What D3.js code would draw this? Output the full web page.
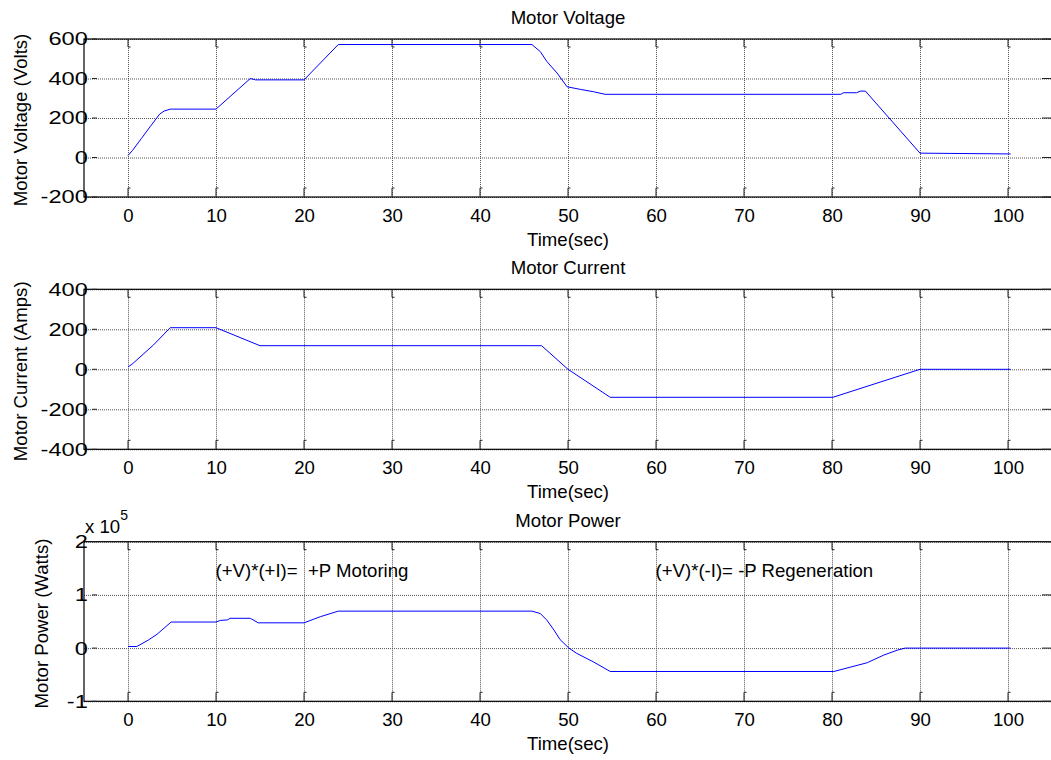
<!DOCTYPE html>
<html lang="en">
<head>
<meta charset="UTF-8">
<title>Motor Voltage, Current and Power</title>
<script src="https://d3js.org/d3.v7.min.js"></script>
<style>
  body { margin: 0; background: #fff; }
  svg { display: block; font-family: "Liberation Sans", Arial, sans-serif; }
  .grid line { stroke: #555; stroke-dasharray: 1,1; }
  .grid .domain { display: none; }
  .lbl { font-size: 18.6px; fill: #000; }
</style>
</head>
<body>
<svg id="chart" width="1051" height="760"></svg>
<script>
// values
const xTicks = [0, 10, 20, 30, 40, 50, 60, 70, 80, 90, 100];

const voltageTime   = [0, 0.5, 1.5, 2.5, 3.6, 4.1, 4.8, 10.0, 13.9, 14.5, 20.0, 23.9, 45.9, 46.85, 47.6, 48.75, 49.9, 51.4, 52.9, 54.2, 81.0, 81.3, 82.8, 83.2, 83.8, 90.0, 100.3];
const voltageValues = [10, 35, 95, 155, 220, 235, 245, 245, 400, 393, 393, 572, 572, 536, 486, 428, 358, 345, 333, 320, 320, 328, 328, 336, 336, 22, 18];
const voltageTicks  = [-200, 0, 200, 400, 600];

const currentTime   = [0, 0.45, 2.9, 4.8, 10.0, 15.0, 47.0, 50.0, 54.8, 80.1, 90.0, 100.3];
const currentValues = [12, 25, 122, 208, 208, 118, 118, 0, -140, -140, 0, 0];
const currentTicks  = [-400, -200, 0, 200, 400];

const powerTime   = [0, 1.0, 2.3, 3.3, 4.9, 10.0, 10.5, 11.3, 11.6, 13.9, 14.8, 20.0, 21.85, 23.9, 45.9, 46.85, 47.6, 48.4, 49.1, 50.1, 51.0, 52.9, 54.8, 80.2, 84.0, 85.9, 87.4, 88.3, 100.3];
const powerValues = [3000, 3000, 15000, 26000, 49000, 49000, 52000, 53000, 56000, 56000, 47500, 47500, 59000, 69500, 69500, 65000, 52500, 34000, 16000, 0, -10000, -26000, -44000, -44000, -27500, -13000, -4000, 0, 0];
const powerTicks  = [-100000, 0, 100000, 200000];

const notes = [
  { t: 10, p: 134000, text: "(+V)*(+I)=\u00a0 +P Motoring" },
  { t: 60, p: 134000, text: "(+V)*(-I)= -P Regeneration" }
];

const svg = d3.select("#chart");
const W = 1051;
const xLeft = 84, xRight = 1052;

const x = d3.scaleLinear().domain([-5, 105]).range([xLeft, xRight]);

const panels = [
  { title: "Motor Voltage", ylabel: "Motor Voltage (Volts)", time: voltageTime, values: voltageValues,
    domain: [-200, 600], ticks: voltageTicks, top: 39, bottom: 197, labelX: 26.7, fmt: d => d },
  { title: "Motor Current", ylabel: "Motor Current (Amps)", time: currentTime, values: currentValues,
    domain: [-400, 400], ticks: currentTicks, top: 289.3, bottom: 449.3, labelX: 26.7, fmt: d => d },
  { title: "Motor Power", ylabel: "Motor Power (Watts)", time: powerTime, values: powerValues,
    domain: [-100000, 200000], ticks: powerTicks, top: 541.7, bottom: 701.3, labelX: 48, fmt: d => d / 1e5 }
];

svg.append("rect").attr("width", W).attr("height", 760).attr("fill", "#fff");

panels.forEach((p, i) => {
  const y = d3.scaleLinear().domain(p.domain).range([p.bottom, p.top]);
  const g = svg.append("g");

  // grid
  g.append("g").attr("class", "grid")
    .attr("transform", `translate(0,${p.bottom})`)
    .call(d3.axisBottom(x).tickValues(xTicks).tickSize(-(p.bottom - p.top)).tickFormat(""));
  g.append("g").attr("class", "grid")
    .attr("transform", `translate(${xLeft},0)`)
    .call(d3.axisLeft(y).tickValues(p.ticks).tickSize(-(xRight - xLeft)).tickFormat(""));

  // box
  g.append("rect")
    .attr("x", xLeft).attr("y", p.top)
    .attr("width", xRight - xLeft).attr("height", p.bottom - p.top)
    .attr("fill", "none").attr("stroke", "#000").attr("stroke-width", 1.2);

  // tick marks drawn inside the box
  const tk = g.append("g").attr("stroke", "#222").attr("stroke-width", 1).attr("fill", "none");
  tk.selectAll("path.top").data(xTicks).join("path")
    .attr("d", d => `M${x(d)},${p.top} V${p.top + 8} H${x(d) + 2.5}`);
  tk.selectAll("path.bot").data(xTicks).join("path").attr("class", "bot")
    .attr("d", d => `M${x(d)},${p.bottom} V${p.bottom - 9} H${x(d) + 2.5}`);
  tk.selectAll("line.l").data(p.ticks).join("line").attr("class", "l")
    .attr("x1", 92).attr("x2", 97).attr("y1", d => y(d)).attr("y2", d => y(d));
  tk.selectAll("line.r").data(p.ticks).join("line").attr("class", "r")
    .attr("x1", 1042).attr("x2", 1051).attr("y1", d => y(d)).attr("y2", d => y(d));

  // series
  g.append("path")
    .datum(d3.zip(p.time, p.values))
    .attr("fill", "none").attr("stroke", "#0000ff").attr("stroke-width", 1)
    .attr("d", d3.line().x(d => x(d[0])).y(d => y(d[1])));

  // axis labels
  const xa = g.append("g").attr("transform", `translate(0,${p.bottom})`)
    .call(d3.axisBottom(x).tickValues(xTicks).tickSize(0).tickPadding(11.5));
  xa.select(".domain").remove();
  xa.attr("font-size", null).attr("font-family", null);
  xa.selectAll("text").attr("class", "lbl");

  const ya = g.append("g").attr("transform", `translate(${xLeft},0)`)
    .call(d3.axisLeft(y).tickValues(p.ticks).tickSize(0).tickPadding(-3).tickFormat(p.fmt));
  ya.select(".domain").remove();
  ya.attr("font-size", null).attr("font-family", null);
  // the y tick numbers in the reference are drawn a bit wider than the rest
  ya.selectAll("text").attr("class", "lbl").attr("transform", "scale(1.27,1)");

  const cx = (xLeft + xRight) / 2;
  g.append("text").attr("class", "lbl").attr("text-anchor", "middle")
    .attr("x", cx).attr("y", p.top - 15).text(p.title);
  g.append("text").attr("class", "lbl").attr("text-anchor", "middle")
    .attr("x", cx).attr("y", p.bottom + 48.5).text("Time(sec)");
  g.append("text").attr("class", "lbl").attr("text-anchor", "middle")
    .attr("transform", `translate(${p.labelX},${(p.top + p.bottom) / 2 + 2}) rotate(-90)`)
    .text(p.ylabel);

  if (i === 2) {
    const ex = g.append("text").attr("class", "lbl").attr("x", xLeft + 1).attr("y", p.top - 8.5);
    ex.append("tspan").text("x 10");
    ex.append("tspan").attr("dy", -13).attr("font-size", 14).text("5");
    g.selectAll("text.note").data(notes).join("text")
      .attr("class", "lbl note")
      .attr("x", d => x(d.t) - 0.5).attr("y", d => y(d.p))
      .text(d => d.text);
  }
});
</script>
</body>
</html>
